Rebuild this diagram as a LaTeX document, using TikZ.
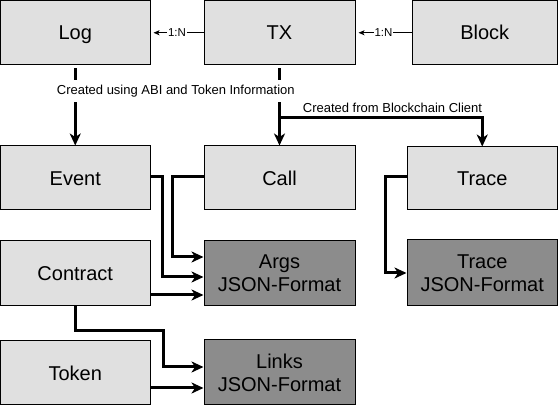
\documentclass[tikz,border=0pt]{standalone}
\usepackage{fontspec}
\setmainfont{Liberation Sans}
\usetikzlibrary{arrows.meta}
\definecolor{boxlight}{HTML}{E0E0E0}
\definecolor{boxdark}{HTML}{8C8C8C}
\begin{document}
\begin{tikzpicture}[x=1pt,y=-1pt,
  basebox/.style={draw=black, line width=1pt, fill=boxlight, inner sep=0pt, align=center,
    font=\fontsize{20}{23}\selectfont},
  lbox/.style={basebox, text height=14.5pt, text depth=0pt},
  dbox/.style={basebox, fill=boxdark},
  wh/.style 2 args={minimum width=#1pt, minimum height=#2pt},
  thick arrow/.style={line width=3pt, -{Stealth[length=12pt, width=11pt, inset=3.5pt]}},
  thin arrow/.style={line width=1pt, -{Stealth[length=6pt, width=5pt, inset=1.5pt]}, shorten >=3pt},
  ratio label/.style={fill=white, inner sep=1pt, font=\fontsize{11.5}{13}\selectfont},
  edge label/.style={inner xsep=2pt, inner ysep=5pt, font=\fontsize{13}{15}\selectfont}
]
\useasboundingbox (0,0) rectangle (558,406);

% boxes
\node[lbox, wh={149.5}{64.5}] (log)   at (75.25,32.75) {Log};
\node[lbox, wh={151}{64.5}]   (tx)    at (279.5,32.75) {TX};
\node[lbox, wh={145.5}{64.5}] (block) at (484.75,32.75) {Block};

\node[lbox, wh={149.5}{64}]   (event) at (75.25,178) {Event};
\node[lbox, wh={151}{64}]     (call)  at (279.5,178) {Call};
\node[lbox, wh={150.5}{63}]   (trace) at (482.25,178.5) {Trace};

\node[lbox, wh={149.5}{65}]   (contract) at (75.25,273.5) {Contract};
\node[dbox, wh={151}{65}]     (args)     at (279.5,273.5) {Args\\JSON-Format};
\node[dbox, wh={150.5}{66}]   (tracej)   at (482.25,273) {Trace\\JSON-Format};

\node[lbox, wh={149.5}{64}]   (token) at (75.25,373) {Token};
\node[dbox, wh={151}{65}]     (links) at (279.5,372.5) {Links\\JSON-Format};

% 1:N relations
\draw[thin arrow] (tx.west) -- (log.east) node[midway, ratio label] {1:N};
\draw[thin arrow] (block.west) -- (tx.east) node[midway, ratio label] {1:N};

% creation arrows
\draw[thick arrow, shorten <=3pt] (log.south) -- (event.north);
\draw[thick arrow, shorten <=3pt] (tx.south) -- (call.north);
\coordinate (branch) at (tx.south |- 0,118);
\draw[thick arrow] (branch) -| (trace.north);

\node[edge label, fill=white] (lab1) at (175.8,90.7) {Created using ABI and Token Information};
\node[edge label] (lab2) at (392.5,108) {Created from Blockchain Client};

% JSON format arrows
\draw[thick arrow] (call.west |- 0,177) -- (172,177) |- (args.west |- 0,257);
\draw[thick arrow] (event.east |- 0,177) -- (162,177) |- (args.west |- 0,277);
\draw[thick arrow] (contract.east |- 0,295) -- (args.west |- 0,295);
\draw[thick arrow] (contract.south) -- (contract.south |- 0,331) -- (163,331) |- (links.west |- 0,367);
\draw[thick arrow] (token.east |- 0,388) -- (links.west |- 0,388);
\draw[thick arrow] (trace.west |- 0,177) -- (385,177) |- (tracej.west |- 0,273);
\end{tikzpicture}
\end{document}
